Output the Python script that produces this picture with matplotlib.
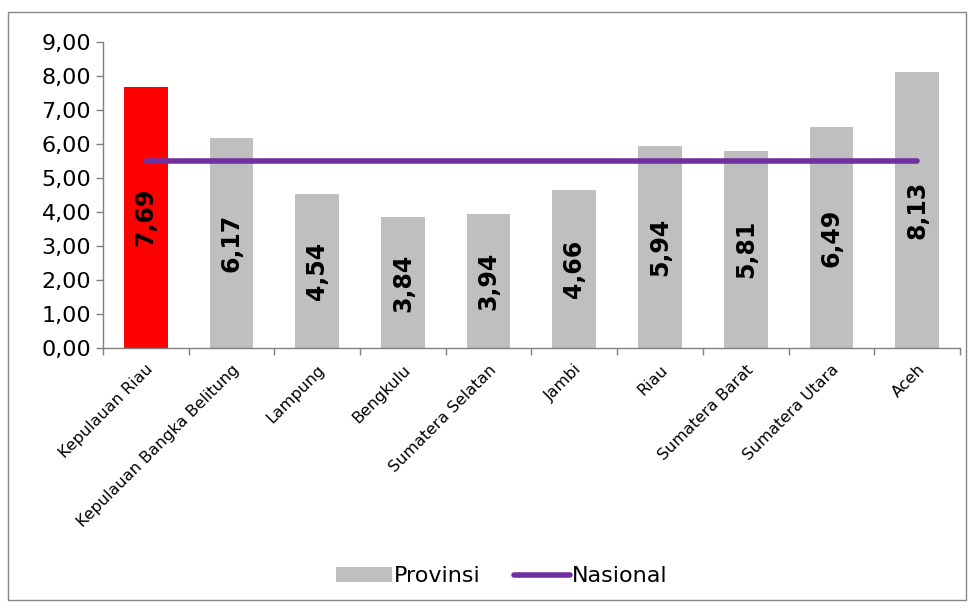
import matplotlib
matplotlib.use("Agg")
import matplotlib.pyplot as plt
from matplotlib.patches import Patch, Rectangle
from matplotlib.lines import Line2D
from matplotlib.ticker import FuncFormatter, FixedLocator
import numpy as np

categories = ["Kepulauan Riau", "Kepulauan Bangka Belitung", "Lampung", "Bengkulu",
              "Sumatera Selatan", "Jambi", "Riau", "Sumatera Barat", "Sumatera Utara", "Aceh"]
provinsi = [7.69, 6.17, 4.54, 3.84, 3.94, 4.66, 5.94, 5.81, 6.49, 8.13]
nasional = [5.5] * len(categories)
bar_colors = ["#FF0000"] + ["#BFBFBF"] * (len(categories) - 1)

plt.rcParams['font.family'] = ['DejaVu Sans']

fig = plt.figure(figsize=(9.75, 6.1), dpi=100)
ax = fig.add_axes([0.1056, 0.4295, 0.879, 0.5015])

x = np.arange(len(categories))
ax.bar(x, provinsi, width=0.51, color=bar_colors, zorder=2)
ax.plot(x, nasional, color="#7030A0", lw=4, solid_capstyle="round", zorder=3)

for xi, v in zip(x, provinsi):
    ax.text(xi, v / 2, f"{v:.2f}".replace(".", ","), rotation=90, ha="center", va="center",
            fontsize=17, fontweight="bold", color="black", zorder=4)

ax.set_xlim(-0.5, len(categories) - 0.5)
ax.set_ylim(0, 9)
ax.set_yticks(np.arange(0, 10, 1))
ax.yaxis.set_major_formatter(FuncFormatter(lambda v, p: f"{v:.2f}".replace(".", ",")))
ax.tick_params(axis="y", labelsize=16, length=5, color="#808080", width=1)

ax.set_xticks(x)
ax.set_xticklabels(categories, rotation=45, ha="right", rotation_mode="anchor", fontsize=11.5)
ax.tick_params(axis="x", length=0, pad=10)
ax.xaxis.set_minor_locator(FixedLocator(np.arange(-0.5, len(categories), 1)))
ax.tick_params(axis="x", which="minor", length=5, color="#808080", width=1)

for s in ["top", "right"]:
    ax.spines[s].set_visible(False)
for s in ["left", "bottom"]:
    ax.spines[s].set_color("#808080")
    ax.spines[s].set_linewidth(1)

handles = [Patch(facecolor="#BFBFBF", edgecolor="none", label="Provinsi"),
           Line2D([0], [0], color="#7030A0", lw=4, solid_capstyle="round", label="Nasional")]
fig.legend(handles=handles, loc="center", bbox_to_anchor=(0.515, 0.055), ncol=2, frameon=False,
           fontsize=16, handlelength=2.5, handletextpad=0.1, columnspacing=1.5)

fig.patches.append(Rectangle((8 / 975, 1 - 600 / 610), 958 / 975, 588 / 610, transform=fig.transFigure,
                             fill=False, edgecolor="#868686", lw=1))

fig.savefig("out.png", dpi=100)
